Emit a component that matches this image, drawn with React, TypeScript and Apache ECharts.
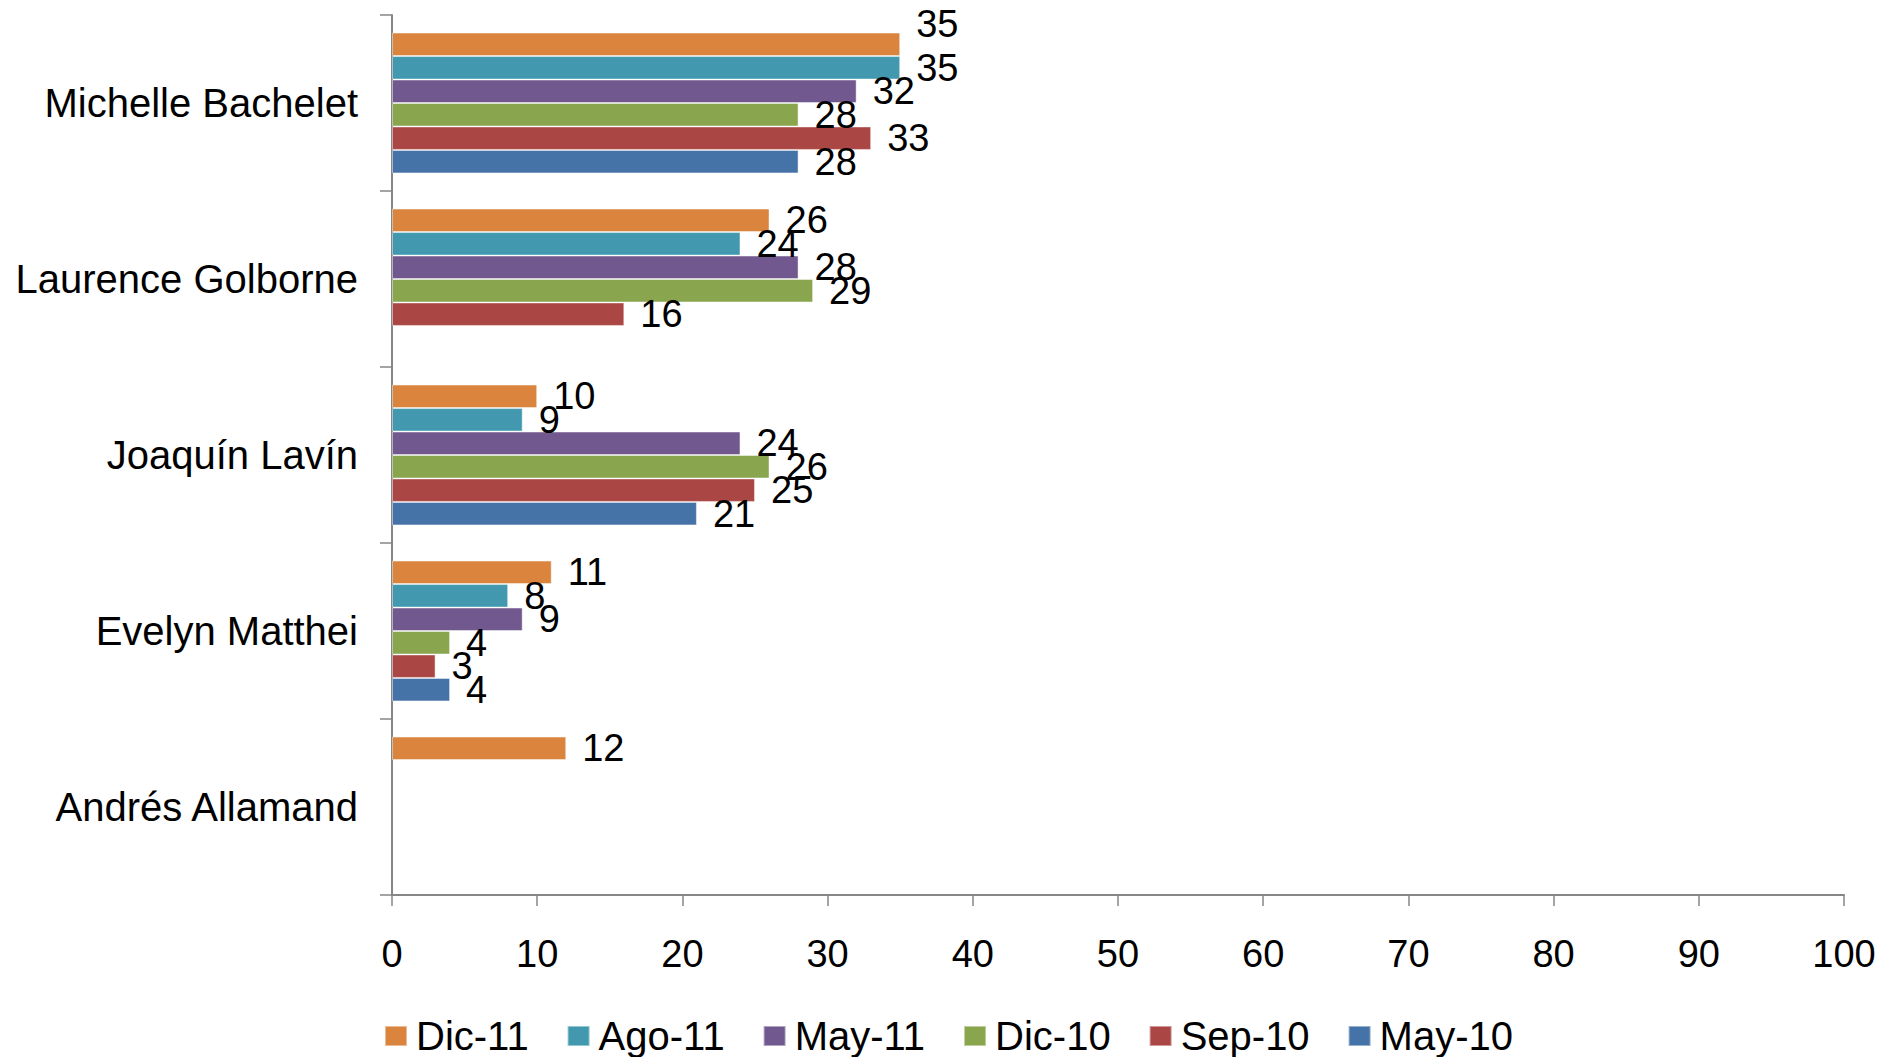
import React, { useEffect, useRef } from "react";
import * as echarts from "echarts";

const categories = [
  "Michelle Bachelet",
  "Laurence Golborne",
  "Joaquín Lavín",
  "Evelyn Matthei",
  "Andrés Allamand",
];

const seriesNames = ["Dic-11", "Ago-11", "May-11", "Dic-10", "Sep-10", "May-10"];

const dic11 = [35, 26, 10, 11, 12];
const ago11 = [35, 24, 9, 8, null];
const may11 = [32, 28, 24, 9, null];
const dic10 = [28, 29, 26, 4, null];
const sep10 = [33, 16, 25, 3, null];
const may10 = [28, null, 21, 4, null];

const seriesValues = [dic11, ago11, may11, dic10, sep10, may10];

const colors = ["#DB843D", "#4198AF", "#71588F", "#89A54E", "#AA4643", "#4572A7"];

const xTicks = { min: 0, max: 100, interval: 10 };

const FONT = "'Liberation Sans', Arial, sans-serif";

export default function App() {
  const ref = useRef<HTMLDivElement>(null);
  useEffect(() => {
    if (!ref.current) return;
    const chart = echarts.init(ref.current, null, { renderer: "svg" });
    const series = seriesNames.map((name, si) => ({
      name,
      type: "bar",
      barGap: "0%",
      barCategoryGap: "20%",
      itemStyle: {
        color: colors[si],
        borderColor: "rgba(255,255,255,0.45)",
        borderWidth: 1,
      },
      label: {
        show: true,
        position: "right",
        distance: 16,
        color: "#000",
        fontSize: 38,
        fontFamily: FONT,
      },
      data: seriesValues[si].map((v, di) => {
        if (si === 0 && di === 0) {
          return { value: v, label: { offset: [0, -20] } };
        }
        return v;
      }),
    }));
    chart.setOption({
      animation: false,
      color: colors,
      grid: { left: 392, right: 53, top: 15, bottom: 162, containLabel: false },
      legend: {
        data: seriesNames,
        top: 1016,
        left: "center",
        padding: 0,
        itemWidth: 22,
        itemHeight: 20,
        itemGap: 38,
        icon: "rect",
        textStyle: { fontSize: 40, lineHeight: 40, fontFamily: FONT, color: "#000", padding: [0, 0, 0, 4] },
      },
      xAxis: {
        type: "value",
        min: xTicks.min,
        max: xTicks.max,
        interval: xTicks.interval,
        axisLine: { show: true, lineStyle: { color: "#868686", width: 2 } },
        axisTick: { show: true, length: 11, lineStyle: { color: "#868686", width: 1.5 } },
        splitLine: { show: false },
        axisLabel: { fontSize: 38, fontFamily: FONT, color: "#000", margin: 40 },
      },
      yAxis: {
        type: "category",
        data: categories,
        inverse: true,
        axisLine: { show: true, lineStyle: { color: "#868686", width: 2 } },
        axisTick: { show: true, length: 12, lineStyle: { color: "#868686", width: 1.5 } },
        axisLabel: { fontSize: 40, fontFamily: FONT, color: "#000", margin: 34 },
      },
      series,
    });
    return () => chart.dispose();
  }, []);
  return <div ref={ref} style={{ width: 1897, height: 1057, position: "absolute", left: 0, top: 0 }} />;
}
